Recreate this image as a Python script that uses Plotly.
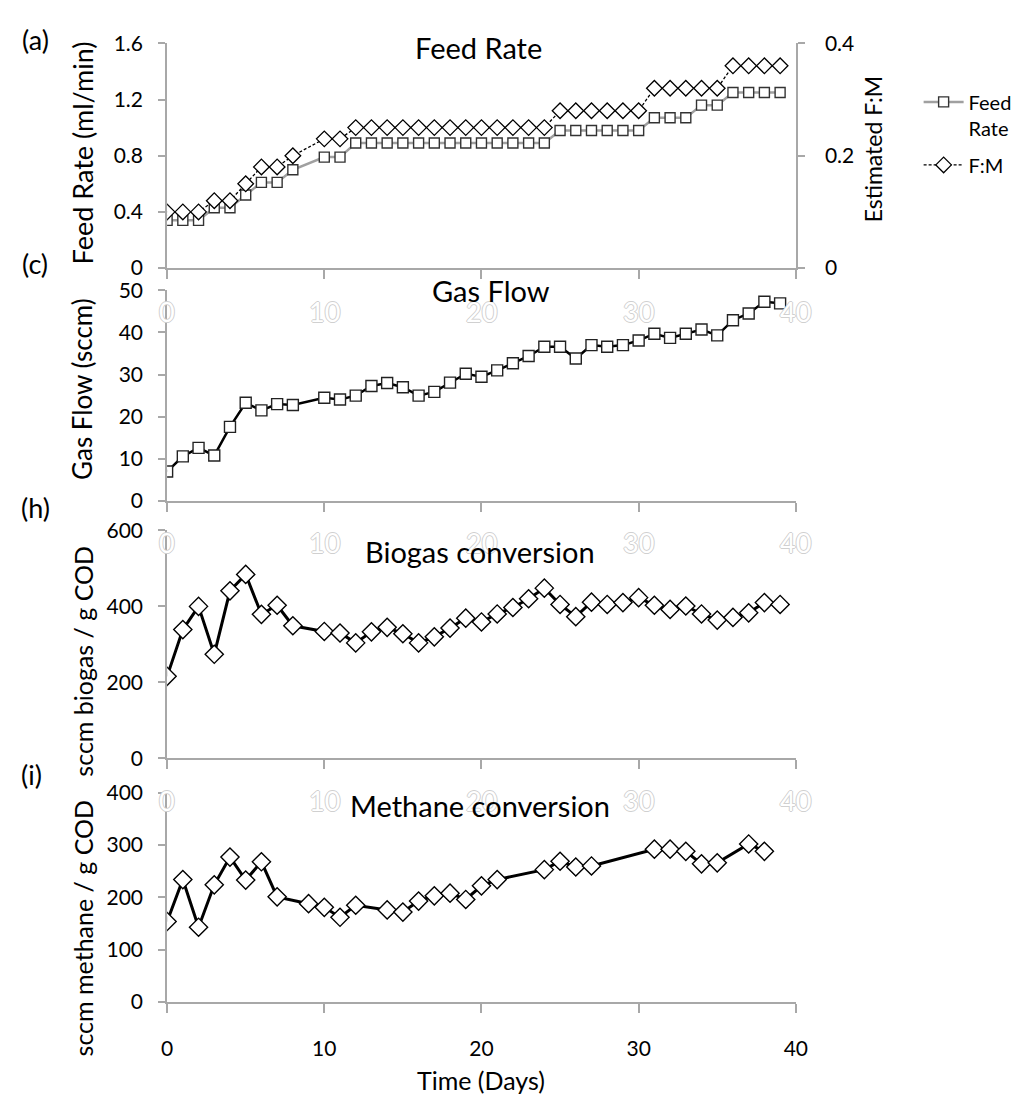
import plotly.graph_objects as go

# ---- data -------------------------------------------------------------
# Feed rate panel (a)
feed_days = [0, 1, 2, 3, 4, 5, 6, 7, 8, 10, 11, 12, 13, 14, 15, 16, 17, 18, 19,
             20, 21, 22, 23, 24, 25, 26, 27, 28, 29, 30, 31, 32, 33, 34, 35, 36,
             37, 38, 39]
feed_rate = [0.34, 0.34, 0.34, 0.43, 0.43, 0.52, 0.61, 0.61, 0.70, 0.79, 0.79,
             0.89, 0.89, 0.89, 0.89, 0.89, 0.89, 0.89, 0.89, 0.89, 0.89, 0.89,
             0.89, 0.89, 0.98, 0.98, 0.98, 0.98, 0.98, 0.98, 1.07, 1.07, 1.07,
             1.16, 1.16, 1.25, 1.25, 1.25, 1.25]
f_to_m = [0.10, 0.10, 0.10, 0.12, 0.12, 0.15, 0.18, 0.18, 0.20, 0.23, 0.23,
          0.25, 0.25, 0.25, 0.25, 0.25, 0.25, 0.25, 0.25, 0.25, 0.25, 0.25,
          0.25, 0.25, 0.28, 0.28, 0.28, 0.28, 0.28, 0.28, 0.32, 0.32, 0.32,
          0.32, 0.32, 0.36, 0.36, 0.36, 0.36]

# Gas flow panel (c)
gas_days = feed_days
gas_flow = [7.0, 10.6, 12.6, 10.8, 17.6, 23.3, 21.5, 23.0, 22.8, 24.5, 24.1,
            25.0, 27.3, 28.0, 27.0, 25.0, 25.9, 28.1, 30.2, 29.5, 31.0, 32.7,
            34.4, 36.6, 36.6, 33.8, 37.0, 36.6, 37.0, 38.1, 39.7, 38.7, 39.7,
            40.7, 39.3, 42.9, 44.5, 47.3, 46.9]

# Biogas conversion panel (h)
biogas_days = feed_days
biogas = [216, 339, 400, 274, 441, 484, 379, 403, 349, 334, 330, 304, 333, 345,
          328, 304, 320, 343, 369, 359, 380, 397, 420, 448, 405, 373, 411, 405,
          410, 423, 403, 392, 401, 380, 364, 371, 383, 410, 405]

# Methane conversion panel (i)
methane_days = [0, 1, 2, 3, 4, 5, 6, 7, 9, 10, 11, 12, 14, 15, 16, 17, 18, 19,
                20, 21, 24, 25, 26, 27, 31, 32, 33, 34, 35, 37, 38]
methane = [154, 234, 143, 224, 277, 233, 268, 201, 188, 181, 162, 185, 176, 172,
           193, 203, 208, 196, 222, 234, 253, 269, 258, 260, 292, 292, 288, 264,
           266, 302, 288]

x_ticks = [0, 10, 20, 30, 40]

# ---- layout geometry (pixels) -----------------------------------------
W, H = 1021, 1104
FONT = "Lato, 'Open Sans', sans-serif"
AXIS_GREY = "#a8a8a8"


def px_x(v):
    return v / W


def px_y(v):
    return 1 - v / H


X_DOM = [px_x(164), px_x(804)]
panels = {
    "a": (30, 260),
    "c": (282.7, 498.3),
    "h": (528.3, 761.7),
    "i": (796.7, 1011),
}

fig = go.Figure()

# Feed rate (left axis) and F:M (right axis)
fig.add_trace(go.Scatter(
    x=feed_days, y=feed_rate, name="Feed<br>Rate", mode="lines+markers",
    legendgroup="feed",
    line=dict(color="#a0a0a0", width=2.5),
    marker=dict(symbol="square", size=10, color="white",
                line=dict(color="#333333", width=1.4)),
    xaxis="x", yaxis="y"))
fig.add_trace(go.Scatter(
    x=feed_days, y=f_to_m, name="F:M", mode="lines+markers",
    legendgroup="fm",
    line=dict(color="black", width=1.3, dash="3px,2px"),
    marker=dict(symbol="diamond", size=12, color="white",
                line=dict(color="black", width=1.3)),
    xaxis="x", yaxis="y5"))

fig.add_trace(go.Scatter(
    x=gas_days, y=gas_flow, mode="lines+markers", showlegend=False,
    line=dict(color="black", width=2.5),
    marker=dict(symbol="square", size=11, color="white",
                line=dict(color="#222222", width=1.4)),
    xaxis="x2", yaxis="y2"))

fig.add_trace(go.Scatter(
    x=biogas_days, y=biogas, mode="lines+markers", showlegend=False,
    line=dict(color="black", width=3),
    marker=dict(symbol="diamond", size=14, color="white",
                line=dict(color="black", width=1.4)),
    xaxis="x3", yaxis="y3"))

fig.add_trace(go.Scatter(
    x=methane_days, y=methane, mode="lines+markers", showlegend=False,
    line=dict(color="black", width=3),
    marker=dict(symbol="diamond", size=14, color="white",
                line=dict(color="black", width=1.4)),
    xaxis="x4", yaxis="y4"))

x_common = dict(range=[0, 40], tickvals=x_ticks, domain=X_DOM,
                showline=True, linecolor=AXIS_GREY, linewidth=1.8,
                ticks="outside", ticklen=9, tickwidth=1.8, tickcolor=AXIS_GREY,
                showgrid=False, zeroline=False, fixedrange=True)
y_common = dict(showline=True, linecolor=AXIS_GREY, linewidth=1.8,
                ticks="outside", ticklen=7, tickwidth=1.8, tickcolor=AXIS_GREY,
                showgrid=False, zeroline=False,
                tickfont=dict(family=FONT, size=21, color="black"),
                ticklabelstandoff=11)

fig.update_layout(
    xaxis=dict(x_common, anchor="y", showticklabels=False),
    xaxis2=dict(x_common, anchor="y2", showticklabels=False),
    xaxis3=dict(x_common, anchor="y3", showticklabels=False),
    xaxis4=dict(x_common, anchor="y4", showticklabels=True,
                tickfont=dict(family=FONT, size=21, color="black"),
                ticklabelstandoff=18),
    yaxis=dict(y_common, anchor="x", range=[0, 1.6],
               tickvals=[0, 0.4, 0.8, 1.2, 1.6],
               ticktext=["0", "0.4", "0.8", "1.2", "1.6"],
               domain=[px_y(panels["a"][1]), px_y(panels["a"][0])]),
    yaxis5=dict(y_common, anchor="x", overlaying="y", side="right",
                range=[0, 0.4], tickvals=[0, 0.2, 0.4],
                ticktext=["0", "0.2", "0.4"], ticklabelstandoff=16),
    yaxis2=dict(y_common, anchor="x2", range=[0, 50], dtick=10,
                domain=[px_y(panels["c"][1]), px_y(panels["c"][0])]),
    yaxis3=dict(y_common, anchor="x3", range=[0, 600], dtick=200,
                domain=[px_y(panels["h"][1]), px_y(panels["h"][0])]),
    yaxis4=dict(y_common, anchor="x4", range=[0, 400], dtick=100,
                domain=[px_y(panels["i"][1]), px_y(panels["i"][0])]),
)

annotations = []


def add_text(text, x, y, size, angle=0, color="black", xanchor="center",
             shadow=None, xref="paper"):
    font = dict(family=FONT, size=size, color=color)
    if shadow:
        font["shadow"] = shadow
    annotations.append(dict(text=text, x=x, y=y, xref=xref, yref="paper",
                            showarrow=False, textangle=angle, font=font,
                            xanchor=xanchor, yanchor="middle"))


# faint day labels near the top of the lower panels (drawn first, beneath)
halo = ("1px 0 0 #d0d0d0, -1px 0 0 #d0d0d0, 0 1px 0 #d0d0d0, "
        "0 -1px 0 #d0d0d0")
for xa, ypos in (("x2", 304), ("x3", 541), ("x4", 805)):
    for t in x_ticks:
        add_text(str(t), t, px_y(ypos), 27, color="white", shadow=halo,
                 xref=xa)

# panel titles
add_text("Feed Rate", px_x(481), px_y(34), 29)
add_text("Gas Flow", px_x(494), px_y(283), 29)
add_text("Biogas conversion", px_x(483), px_y(550), 29)
add_text("Methane conversion", px_x(483), px_y(810), 29)

# panel letters
add_text("(a)", px_x(30), px_y(26), 27)
add_text("(c)", px_x(30), px_y(255), 27)
add_text("(h)", px_x(30), px_y(505), 27)
add_text("(i)", px_x(26), px_y(778), 27)

# axis titles
add_text("Feed Rate (ml/min)", px_x(78), px_y(142), 27, angle=-90)
add_text("Gas Flow (sccm)", px_x(78), px_y(384), 26, angle=-90)
add_text("sccm biogas / g COD", px_x(78), px_y(662), 25, angle=-90)
add_text("sccm methane / g COD", px_x(78), px_y(936), 25, angle=-90)
add_text("Estimated F:M", px_x(882), px_y(138), 23, angle=-90)
add_text("Time (Days)", px_x(484), px_y(1091), 25)

fig.update_layout(
    width=W, height=H,
    margin=dict(l=0, r=0, t=0, b=0),
    paper_bgcolor="white", plot_bgcolor="white",
    font=dict(family=FONT, size=20, color="black"),
    annotations=annotations,
    legend=dict(x=px_x(929), y=px_y(70), xanchor="left", yanchor="top",
                font=dict(family=FONT, size=20, color="black"),
                bgcolor="rgba(0,0,0,0)", valign="top", itemwidth=40,
                traceorder="grouped", tracegroupgap=8),
)

fig.write_html("out.html")
